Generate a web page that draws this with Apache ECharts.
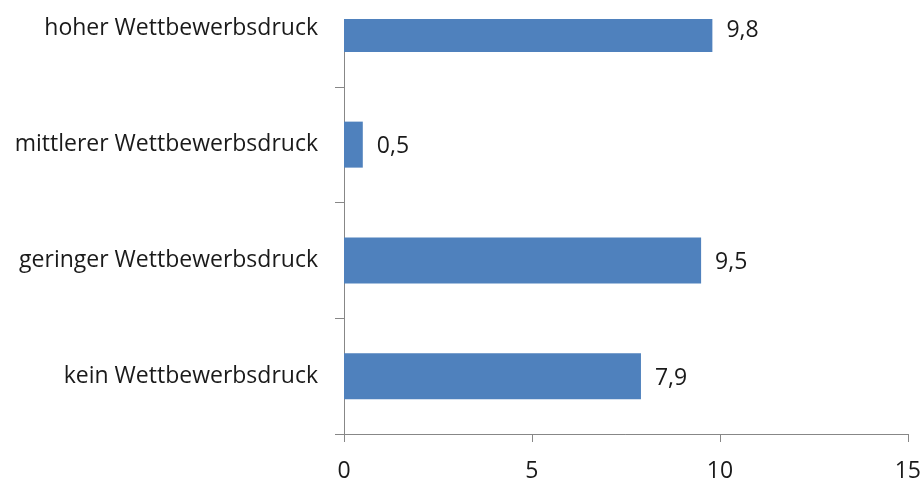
<!DOCTYPE html>
<html>
<head>
<meta charset="utf-8">
<script src="https://cdn.jsdelivr.net/npm/echarts@6/dist/echarts.min.js"></script>
<style>
  html, body { margin: 0; padding: 0; background: #fff; overflow: hidden; width: 924px; height: 486px; }
  #chart { position: absolute; left: 0; top: -29px; width: 924px; height: 515px; }
</style>
</head>
<body>
<div id="chart"></div>
<script>
// Categories listed bottom to top (category axis runs upward)
const categories = [
  'kein Wettbewerbsdruck',
  'geringer Wettbewerbsdruck',
  'mittlerer Wettbewerbsdruck',
  'hoher Wettbewerbsdruck'
];
const values = [7.9, 9.5, 0.5, 9.8];
const xTicks = [0, 5, 10, 15];

const FONT = 'Open Sans';
const SIZE = 23;
const TEXT = '#1a1a1a';
const AXIS = '#878787';
const fmt = v => v.toFixed(1).replace('.', ',');

const chart = echarts.init(document.getElementById('chart'), null, { renderer: 'canvas' });
chart.setOption({
  animation: false,
  backgroundColor: '#fff',
  // the plot area starts above the visible page; the strip above the visible
  // plot top is blanked so the top bar and the axis line start there
  grid: { left: 344, right: 15, top: 0, bottom: 52, containLabel: false },
  graphic: [{
    type: 'rect',
    left: 330,
    top: 0,
    z: 100,
    silent: true,
    shape: { width: 594, height: 48 },
    style: { fill: '#fff' }
  }],
  xAxis: {
    type: 'value',
    min: xTicks[0],
    max: xTicks[xTicks.length - 1],
    interval: xTicks[1] - xTicks[0],
    splitLine: { show: false },
    axisLine: { show: true, lineStyle: { color: AXIS, width: 1 } },
    axisTick: { show: true, length: 8, lineStyle: { color: AXIS } },
    axisLabel: { margin: 26, color: TEXT, fontFamily: FONT, fontSize: SIZE }
  },
  yAxis: {
    type: 'category',
    data: categories,
    axisLine: { show: true, lineStyle: { color: AXIS, width: 1 } },
    axisTick: { show: true, length: 9, lineStyle: { color: AXIS } },
    axisLabel: { margin: 26, color: TEXT, fontFamily: FONT, fontSize: SIZE, padding: [5, 0, 0, 0] }
  },
  series: [{
    type: 'bar',
    data: values,
    barWidth: 46,
    itemStyle: { color: '#4F81BD' },
    label: {
      show: true,
      position: 'right',
      distance: 14,
      offset: [0, 2],
      color: TEXT,
      fontFamily: FONT,
      fontSize: SIZE,
      formatter: p => fmt(p.value)
    }
  }]
});
</script>
</body>
</html>
